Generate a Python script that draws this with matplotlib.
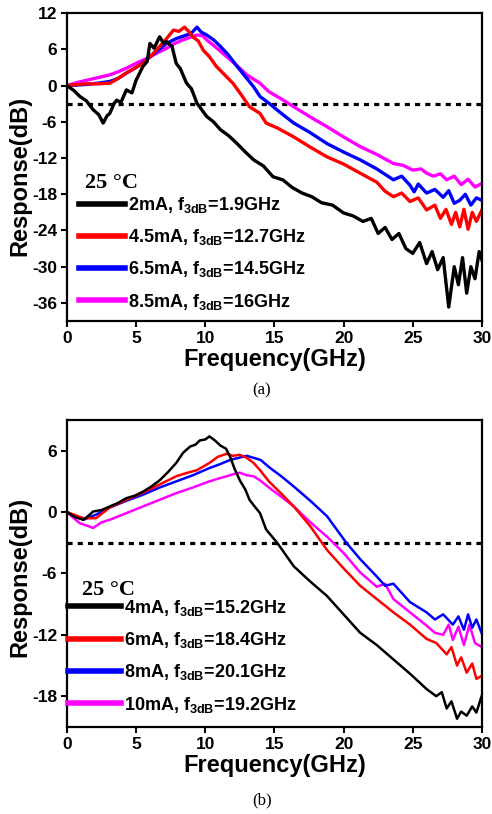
import matplotlib
matplotlib.use("Agg")
import matplotlib.pyplot as plt

# ---- panel (a): 25 C, 2 / 4.5 / 6.5 / 8.5 mA ----
f_a_2 = [0, 0.5, 0.94, 1.4, 1.9, 2.3, 2.62, 2.9, 3.1, 3.4,
         3.6, 3.9, 4.3, 4.7, 5.0, 5.5, 5.8, 6.0, 6.3, 6.7,
         7.0, 7.2, 7.6, 7.9, 8.2, 8.65, 9.0, 9.4, 10.1, 10.6,
         11.1, 11.7, 12.3, 12.9, 13.5, 14.2, 14.9, 15.6, 16.3, 17.0,
         17.7, 18.4, 19.2, 20.0, 20.7, 21.4, 22.0, 22.5, 23.0, 23.5,
         24.0, 24.5, 25.0, 25.5, 26.0, 26.4, 26.8, 27.2, 27.6, 28.0,
         28.3, 28.6, 28.9, 29.2, 29.5, 29.8, 30.0]
db_a_2 = [0, -0.8, -1.8, -2.5, -4.0, -4.8, -6.2, -5.0, -4.6, -3.0,
          -2.4, -2.8, -0.7, -1.2, 0.9, 3.2, 4.0, 7.0, 6.2, 8.1,
          7.0, 7.3, 6.5, 3.7, 2.8, 0.4, -0.5, -2.9, -5.1, -6.0,
          -7.3, -8.3, -9.6, -11.0, -12.3, -13.3, -15.1, -15.6, -16.9, -17.8,
          -18.4, -19.4, -19.8, -21.1, -21.6, -22.5, -22.0, -24.5, -23.5, -25.5,
          -24.5, -27.0, -27.8, -26.0, -29.5, -27.5, -30.5, -28.5, -36.7, -30.0,
          -33.0, -28.5, -34.4, -30.0, -32.0, -27.5, -28.9]

f_a_45 = [0, 0.7, 1.42, 2.2, 3.1, 3.7, 4.3, 4.9, 5.5, 6.1,
          6.7, 7.2, 7.7, 8.1, 8.5, 8.8, 9.1, 9.5, 9.85, 10.3,
          10.8, 11.4, 12.0, 12.6, 13.2, 13.96, 14.4, 15.2, 16.4, 17.6,
          18.8, 20.0, 21.2, 22.4, 23.0, 23.6, 24.2, 24.8, 25.4, 26.0,
          26.6, 27.0, 27.4, 27.8, 28.1, 28.4, 28.7, 29.0, 29.3, 29.6, 30.0]
db_a_45 = [0, 0.2, 0.3, 0.3, 0.4, 1.2, 2.1, 2.9, 3.7, 5.0,
           6.5, 7.8, 9.2, 9.0, 9.7, 9.0, 8.1, 7.4, 5.9, 4.8,
           3.2, 1.8, 0.4, -1.5, -3.5, -4.6, -6.2, -7.0, -8.5, -10.2,
           -11.8, -13.0, -14.5, -16.0, -17.5, -18.4, -17.8, -19.2, -18.6, -20.6,
           -19.8, -22.0, -20.5, -23.0, -21.0, -23.4, -20.5, -23.8, -21.0, -22.5, -20.6]

f_a_65 = [0, 0.7, 1.42, 2.2, 3.1, 3.7, 4.3, 5.0, 5.76, 6.5,
          7.2, 7.9, 8.65, 9.0, 9.4, 9.7, 10.1, 10.6, 11.1, 11.7,
          12.3, 12.9, 13.5, 13.96, 14.6, 15.5, 16.4, 17.6, 18.8, 20.0,
          21.2, 22.4, 23.6, 24.2, 24.8, 25.1, 25.4, 26.0, 26.6, 27.2,
          27.6, 28.0, 28.4, 28.8, 29.2, 29.6, 30.0]
db_a_65 = [0, 0.1, 0.2, 0.4, 0.7, 1.2, 2.1, 3.0, 4.3, 5.7,
           7.0, 7.8, 8.4, 8.7, 9.7, 8.9, 8.4, 7.6, 6.5, 5.0,
           3.2, 1.5, -0.2, -1.8, -2.9, -4.6, -6.2, -7.8, -9.6, -11.0,
           -12.3, -13.8, -15.6, -15.0, -16.5, -17.6, -16.3, -17.8, -17.2, -18.5,
           -17.4, -19.5, -19.0, -18.0, -19.8, -18.6, -19.0]

f_a_85 = [0, 0.7, 1.42, 2.2, 3.1, 3.7, 4.3, 5.0, 5.76, 6.5,
          7.2, 7.8, 8.4, 8.9, 9.4, 9.8, 10.1, 10.8, 11.55, 12.3,
          13.0, 13.96, 14.6, 15.5, 16.4, 17.6, 18.8, 20.0, 21.2, 22.4,
          23.6, 24.3, 25.0, 25.6, 26.0, 26.5, 27.0, 27.45, 28.0, 28.5,
          29.0, 29.5, 30.0]
db_a_85 = [0, 0.5, 0.9, 1.3, 1.8, 2.3, 2.9, 3.7, 4.5, 5.4,
           6.2, 7.0, 7.6, 8.0, 8.4, 8.3, 7.6, 6.3, 4.8, 3.3,
           1.8, 0.4, -1.0, -2.2, -3.5, -5.2, -6.8, -8.5, -10.1, -11.4,
           -12.9, -13.2, -14.0, -13.8, -14.5, -15.0, -14.6, -15.6, -15.0, -16.4,
           -15.5, -16.8, -16.2]

labels_a = [r"2mA, f$_{\mathbf{3dB}}$=1.9GHz",
            r"4.5mA, f$_{\mathbf{3dB}}$=12.7GHz",
            r"6.5mA, f$_{\mathbf{3dB}}$=14.5GHz",
            r"8.5mA, f$_{\mathbf{3dB}}$=16GHz"]

# ---- panel (b): 25 C, 4 / 6 / 8 / 10 mA ----
f_b_4 = [0, 0.6, 1.2, 1.6, 1.9, 2.5, 3.1, 3.7, 4.3, 4.9,
         5.5, 6.1, 6.7, 7.3, 7.9, 8.4, 8.9, 9.3, 9.6, 10.0,
         10.3, 10.7, 11.1, 11.5, 11.8, 12.1, 12.5, 12.9, 13.2, 13.6,
         13.96, 14.4, 15.2, 16.4, 17.6, 18.8, 20.0, 21.2, 22.4, 23.6,
         24.8, 26.0, 26.7, 27.1, 27.45, 27.8, 28.2, 28.5, 28.9, 29.3, 29.6, 30.0]
db_b_4 = [0, -0.5, -0.75, -0.3, 0.06, 0.2, 0.55, 0.9, 1.36, 1.6,
          2.0, 2.5, 3.1, 3.9, 4.8, 5.8, 6.4, 6.6, 7.0, 7.1,
          7.4, 7.0, 6.5, 6.2, 5.4, 4.3, 3.1, 2.2, 1.2, 0.5,
          -0.1, -1.7, -3.0, -5.3, -6.8, -8.2, -10.0, -11.8, -13.0, -14.4,
          -15.8, -17.3, -18.0, -17.6, -19.2, -18.5, -20.2, -19.5, -19.9, -19.0, -19.6, -17.9]

f_b_6 = [0, 0.6, 1.2, 2.1, 3.1, 4.3, 5.5, 6.7, 7.9, 8.6,
         9.4, 10.3, 10.9, 11.55, 12.0, 12.5, 13.0, 13.5, 13.96, 14.6,
         15.5, 16.4, 17.6, 18.8, 20.0, 21.2, 22.4, 23.6, 24.8, 26.0,
         26.7, 27.45, 27.8, 28.2, 28.5, 28.9, 29.3, 29.6, 30.0]
db_b_6 = [0, -0.3, -0.6, -0.6, 0.45, 1.2, 1.9, 2.7, 3.5, 3.8,
          4.1, 4.8, 5.4, 5.7, 5.5, 5.6, 5.3, 4.8, 4.1, 3.0,
          1.8, 0.55, -1.4, -3.7, -5.5, -7.2, -8.5, -9.8, -11.0, -12.4,
          -12.8, -13.9, -13.2, -15.0, -14.2, -15.7, -14.8, -16.3, -16.0]

f_b_8 = [0, 0.6, 1.2, 2.1, 3.1, 4.3, 5.5, 6.7, 7.9, 9.1,
         10.3, 11.1, 11.8, 12.4, 13.0, 13.5, 14.0, 14.7, 15.5, 16.4,
         17.6, 18.8, 20.2, 21.2, 22.4, 23.0, 23.6, 24.8, 26.0, 26.6,
         27.2, 27.9, 28.3, 28.7, 29.0, 29.3, 29.6, 30.0]
db_b_8 = [0, -0.4, -0.75, -0.25, 0.45, 1.1, 1.7, 2.4, 3.0, 3.6,
          4.3, 4.7, 5.1, 5.3, 5.5, 5.3, 5.1, 4.3, 3.5, 2.5,
          1.1, -0.4, -3.0, -4.6, -6.3, -7.2, -7.0, -8.8, -9.8, -10.5,
          -10.0, -11.0, -10.2, -11.5, -10.0, -11.3, -10.5, -11.9]

f_b_10 = [0, 0.5, 0.94, 1.4, 1.9, 2.5, 3.1, 4.3, 5.5, 6.7,
          7.9, 9.1, 10.3, 11.0, 11.55, 12.0, 12.5, 13.0, 13.5, 13.96,
          14.7, 15.5, 16.4, 17.6, 18.8, 20.0, 21.2, 22.4, 23.0, 23.6,
          24.8, 26.0, 26.6, 27.2, 27.6, 27.9, 28.3, 28.7, 29.1, 29.5, 30.0]
db_b_10 = [0, -0.6, -1.1, -1.3, -1.55, -1.0, -0.75, -0.1, 0.55, 1.2,
           1.85, 2.4, 3.0, 3.3, 3.5, 3.7, 3.85, 3.6, 3.5, 3.1,
           2.3, 1.5, 0.55, -1.0, -2.4, -4.0, -5.9, -7.3, -7.0, -8.5,
           -9.8, -11.1, -11.8, -12.0, -11.0, -12.5, -11.2, -13.0, -11.0, -12.8, -13.2]

labels_b = [r"4mA, f$_{\mathbf{3dB}}$=15.2GHz",
            r"6mA, f$_{\mathbf{3dB}}$=18.4GHz",
            r"8mA, f$_{\mathbf{3dB}}$=20.1GHz",
            r"10mA, f$_{\mathbf{3dB}}$=19.2GHz"]

colors = ["black", "#ff0000", "#0000ff", "#ff00ff"]

plt.rcParams["font.family"] = ["Liberation Sans", "DejaVu Sans"]
plt.rcParams["font.weight"] = "bold"
plt.rcParams["axes.unicode_minus"] = False
plt.rcParams["mathtext.fontset"] = "custom"
plt.rcParams["mathtext.rm"] = "Liberation Sans:bold"
plt.rcParams["mathtext.bf"] = "Liberation Sans:bold"


def style_panel(ax, yticks, ylim, ylab_y):
    ax.set_xlim(0, 30)
    ax.set_ylim(*ylim)
    ax.set_xticks([0, 5, 10, 15, 20, 25, 30])
    ax.set_yticks(yticks)
    ax.axhline(-3, color="black", lw=2.3, ls=(0, (1.6, 1.6)), zorder=1)
    for s in ax.spines.values():
        s.set_linewidth(1.6)
    ax.tick_params(direction="out", length=4, width=1.5, labelsize=12.5,
                   top=False, right=False, pad=3)
    for t in ax.get_xticklabels() + ax.get_yticklabels():
        t.set_fontweight("bold")
    ax.set_xlabel("Frequency(GHz)", fontsize=17, fontweight="bold", labelpad=2)
    ax.set_ylabel("Response(dB)", fontsize=17, fontweight="bold", labelpad=2)
    ax.yaxis.set_label_coords(-0.085, ylab_y)


def add_legend(ax, handles, anchor, hlen, title_xy):
    leg = ax.legend(handles=handles, loc="lower left", bbox_to_anchor=anchor,
                    frameon=False, fontsize=13, handlelength=hlen,
                    handletextpad=0.2, labelspacing=0.68, borderpad=0,
                    borderaxespad=0)
    for line in leg.get_lines():
        line.set_linewidth(4)
    ax.text(title_xy[0], title_xy[1], "25 \u00b0C", transform=ax.transAxes,
            ha="left", va="center", family="Liberation Serif",
            fontweight="bold", fontsize=16)
    return leg


fig = plt.figure(figsize=(4.92, 8.14), dpi=100)

# panel (a)
ax1 = fig.add_axes([0.136, 0.6057, 0.8435, 0.378])
series_a = [(f_a_2, db_a_2), (f_a_45, db_a_45), (f_a_65, db_a_65), (f_a_85, db_a_85)]
handles = []
for (f, db), c, lab in zip(series_a[::-1], colors[::-1], labels_a[::-1]):
    h, = ax1.plot(f, db, color=c, lw=2.4, label=lab)
    handles.insert(0, h)
style_panel(ax1, [-36, -30, -24, -18, -12, -6, 0, 6, 12], (-39, 12), 0.47)
add_legend(ax1, handles, (0.03, 0.03), 2.5, (0.043, 0.448))

# panel (b)
ax2 = fig.add_axes([0.136, 0.107, 0.8435, 0.377])
series_b = [(f_b_4, db_b_4), (f_b_6, db_b_6), (f_b_8, db_b_8), (f_b_10, db_b_10)]
handles = []
for (f, db), c, lab in zip(series_b[::-1], colors[::-1], labels_b[::-1]):
    h, = ax2.plot(f, db, color=c, lw=1.8, label=lab)
    handles.insert(0, h)
style_panel(ax2, [-18, -12, -6, 0, 6], (-21, 9), 0.49)
add_legend(ax2, handles, (0.003, 0.04), 2.9, (0.036, 0.446))

fig.text(0.532, 0.521, "(a)", ha="center", va="center", fontsize=12,
         family="Liberation Serif", fontweight="normal")
fig.text(0.532, 0.017, "(b)", ha="center", va="center", fontsize=12,
         family="Liberation Serif", fontweight="normal")

fig.savefig("out.png", dpi=100)
